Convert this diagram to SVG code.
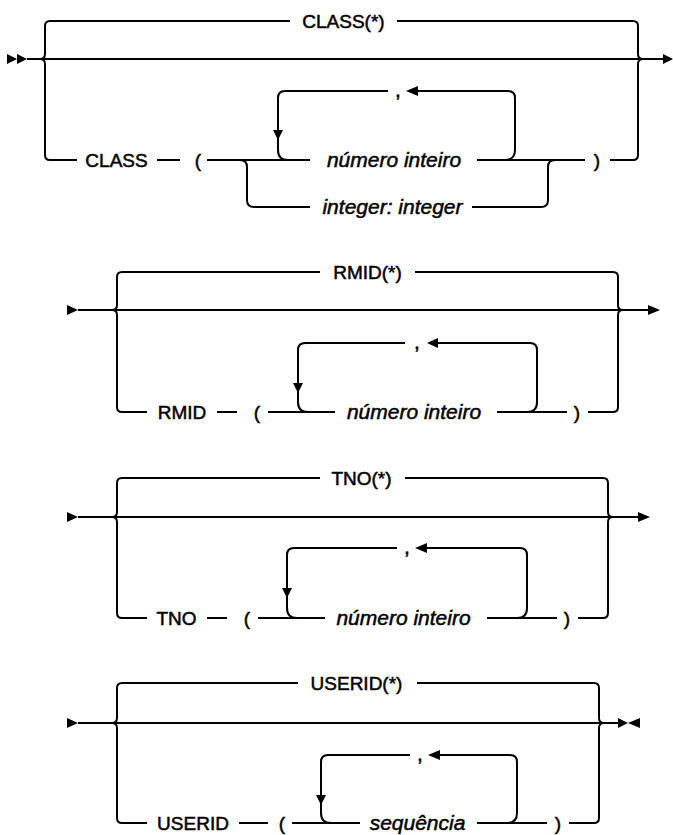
<svg xmlns="http://www.w3.org/2000/svg" width="673" height="835" viewBox="0 0 673 835">
<style>
.ln{fill:none;stroke:#000;stroke-width:2;}
.ah{fill:#000;stroke:none;}
text{font-family:"Liberation Sans",Arial,sans-serif;font-size:19px;fill:#000;stroke:#000;stroke-width:0.5;text-anchor:middle;}
.it{font-style:italic;font-size:21px;}
.cm{font-size:21px;}
</style>
<rect width="673" height="835" fill="#fff"/>
<g id="connectors">
<!-- Section 1 -->
<polygon class="ah" points="7,54 17,59 7,64"/>
<polygon class="ah" points="17,54 27,59 17,64"/>
<path class="ln" d="M27,59 H663"/>
<polygon class="ah" points="663,54 673,59 663,64"/>
<path class="ln" d="M40,59 Q45,59 45,54 V26 Q45,21 50,21 H290"/>
<path class="ln" d="M40,59 Q45,59 45,64 V155 Q45,160 50,160 H77"/>
<path class="ln" d="M397,21 H633 Q638,21 638,26 V54 Q638,59 643,59"/>
<path class="ln" d="M610,160 H633 Q638,160 638,155 V64 Q638,59 643,59"/>
<path class="ln" d="M157,160 H180"/>
<path class="ln" d="M207,160 H310"/>
<path class="ln" d="M240,160 Q247,160 247,167 V200 Q247,207 254,207 H310"/>
<path class="ln" d="M472,207 H541 Q548,207 548,200 V167 Q548,160 555,160"/>
<path class="ln" d="M477,160 H585"/>
<path class="ln" d="M288,160 Q278,160 278,150 V98 Q278,91 285,91 H388"/>
<polygon class="ah" points="273,130 283,130 278,140"/>
<path class="ln" d="M418,91 H508 Q515,91 515,98 V150 Q515,160 505,160"/>
<polygon class="ah" points="418,86 418,96 406,91"/>
<!-- Section 2 -->
<polygon class="ah" points="67,305 78,310 67,315"/>
<path class="ln" d="M78,310 H648"/>
<polygon class="ah" points="648,305 660,310 648,315"/>
<path class="ln" d="M112,310 Q117,310 117,305 V277 Q117,272 122,272 H320"/>
<path class="ln" d="M112,310 Q117,310 117,315 V407 Q117,412 122,412 H147"/>
<path class="ln" d="M415,272 H613 Q618,272 618,277 V305 Q618,310 623,310"/>
<path class="ln" d="M588,412 H613 Q618,412 618,407 V315 Q618,310 623,310"/>
<path class="ln" d="M217,412 H237"/>
<path class="ln" d="M268,412 H335"/>
<path class="ln" d="M308,412 Q298,412 298,402 V350 Q298,343 305,343 H405"/>
<polygon class="ah" points="293,383 303,383 298,393"/>
<path class="ln" d="M438,343 H530 Q537,343 537,350 V402 Q537,412 527,412"/>
<polygon class="ah" points="438,338 438,348 427,343"/>
<path class="ln" d="M497,412 H567"/>
<!-- Section 3 -->
<polygon class="ah" points="67,512 78,517 67,522"/>
<path class="ln" d="M78,517 H638"/>
<polygon class="ah" points="638,512 650,517 638,522"/>
<path class="ln" d="M112,517 Q117,517 117,512 V483 Q117,478 122,478 H320"/>
<path class="ln" d="M112,517 Q117,517 117,522 V613 Q117,618 122,618 H147"/>
<path class="ln" d="M405,478 H603 Q608,478 608,483 V512 Q608,517 613,517"/>
<path class="ln" d="M578,618 H603 Q608,618 608,613 V522 Q608,517 613,517"/>
<path class="ln" d="M207,618 H227"/>
<path class="ln" d="M258,618 H325"/>
<path class="ln" d="M297,618 Q287,618 287,608 V555 Q287,548 294,548 H397"/>
<polygon class="ah" points="282,588 292,588 287,598"/>
<path class="ln" d="M427,548 H520 Q527,548 527,555 V608 Q527,618 517,618"/>
<polygon class="ah" points="427,543 427,553 415,548"/>
<path class="ln" d="M487,618 H557"/>
<!-- Section 4 -->
<polygon class="ah" points="67,718 78,723 67,728"/>
<path class="ln" d="M78,723 H618"/>
<polygon class="ah" points="618,718 628,723 618,728"/>
<polygon class="ah" points="640,718 628,723 640,728"/>
<path class="ln" d="M112,723 Q117,723 117,718 V688 Q117,683 122,683 H298"/>
<path class="ln" d="M112,723 Q117,723 117,728 V818 Q117,823 122,823 H147"/>
<path class="ln" d="M417,683 H594 Q599,683 599,688 V718 Q599,723 604,723"/>
<path class="ln" d="M569,823 H594 Q599,823 599,818 V728 Q599,723 604,723"/>
<path class="ln" d="M239,823 H268"/>
<path class="ln" d="M292,823 H360"/>
<path class="ln" d="M331,823 Q321,823 321,813 V762 Q321,755 328,755 H410"/>
<polygon class="ah" points="316,795 326,795 321,805"/>
<path class="ln" d="M440,755 H510 Q517,755 517,762 V813 Q517,823 507,823"/>
<polygon class="ah" points="440,750 440,760 428,755"/>
<path class="ln" d="M477,823 H547"/>
</g>
<g id="class-star"><text x="343.5" y="27.8">CLASS(*)</text></g>
<g id="class-kw"><text x="116.5" y="166.8">CLASS</text></g>
<g id="class-lparen"><text x="198" y="166.8">(</text></g>
<g id="class-comma"><text class="cm" x="398" y="97">,</text></g>
<g id="class-num"><text class="it" x="394" y="166.5">número inteiro</text></g>
<g id="class-int"><text class="it" x="392.5" y="213.5">integer: integer</text></g>
<g id="class-rparen"><text x="597" y="166.8">)</text></g>
<g id="rmid-star"><text x="367.5" y="278.8">RMID(*)</text></g>
<g id="rmid-kw"><text x="182" y="418.8">RMID</text></g>
<g id="rmid-lparen"><text x="257" y="418.8">(</text></g>
<g id="rmid-comma"><text class="cm" x="417" y="349">,</text></g>
<g id="rmid-num"><text class="it" x="414" y="418.5">número inteiro</text></g>
<g id="rmid-rparen"><text x="577" y="418.8">)</text></g>
<g id="tno-star"><text x="361.5" y="484.8">TNO(*)</text></g>
<g id="tno-kw"><text x="176.5" y="624.8">TNO</text></g>
<g id="tno-lparen"><text x="247" y="624.8">(</text></g>
<g id="tno-comma"><text class="cm" x="407" y="554">,</text></g>
<g id="tno-num"><text class="it" x="403.5" y="624.5">número inteiro</text></g>
<g id="tno-rparen"><text x="567" y="624.8">)</text></g>
<g id="userid-star"><text x="356.5" y="689.8">USERID(*)</text></g>
<g id="userid-kw"><text x="193" y="829.8">USERID</text></g>
<g id="userid-lparen"><text x="282" y="829.8">(</text></g>
<g id="userid-comma"><text class="cm" x="420" y="761">,</text></g>
<g id="userid-seq"><text class="it" x="417.5" y="829.5">sequência</text></g>
<g id="userid-rparen"><text x="558" y="829.8">)</text></g>
</svg>
